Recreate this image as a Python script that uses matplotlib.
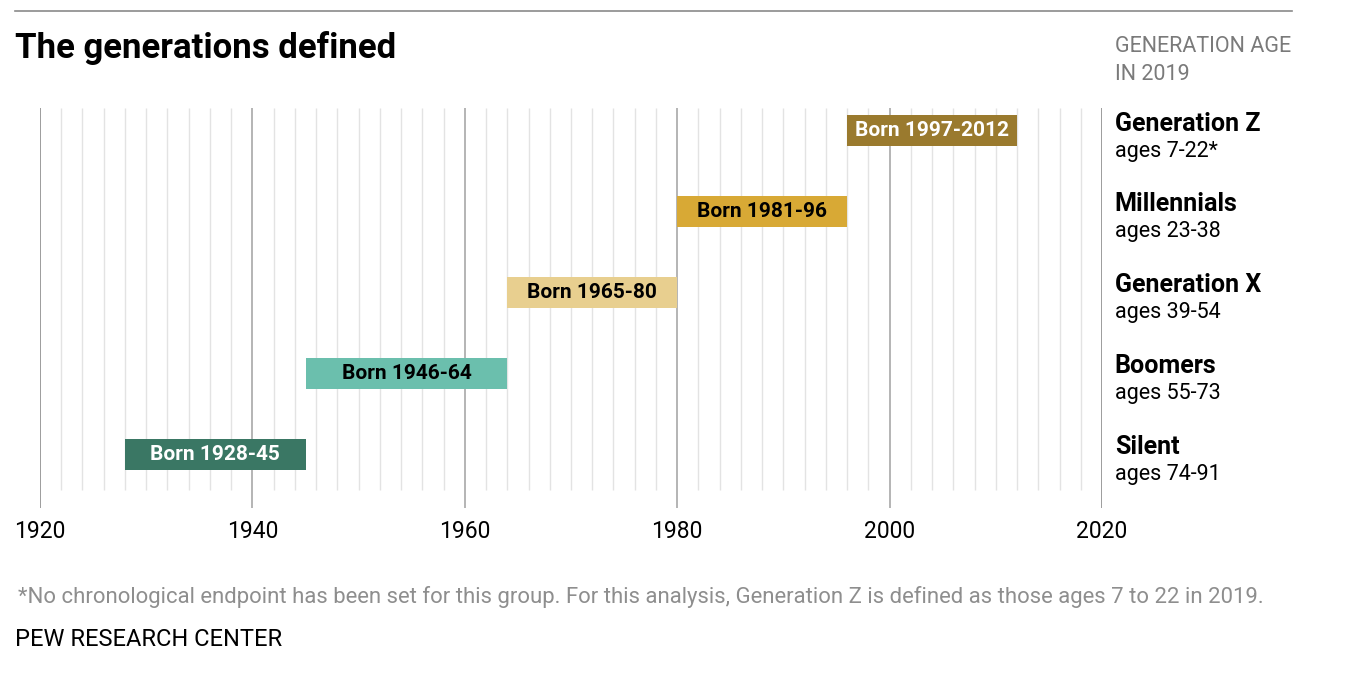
import matplotlib.pyplot as plt

# generations, bottom row first
generations = ["Silent", "Boomers", "Generation X", "Millennials", "Generation Z"]
ages = ["ages 74-91", "ages 55-73", "ages 39-54", "ages 23-38", "ages 7-22*"]
bar_labels = ["Born 1928-45", "Born 1946-64", "Born 1965-80", "Born 1981-96", "Born 1997-2012"]
bar_start = [1928, 1945, 1964, 1980, 1996]
bar_end = [1945, 1964, 1980, 1996, 2012]
colors = ["#3a7764", "#6bbfad", "#e8cf8f", "#d8a935", "#9a7a2e"]
text_colors = ["white", "black", "black", "black", "white"]
year_ticks = [1920, 1940, 1960, 1980, 2000, 2020]

W, H = 1348, 680


def main():
    plt.rcParams["font.family"] = ["Roboto", "DejaVu Sans"]
    fig = plt.figure(figsize=(W / 100, H / 100), dpi=100)

    # axes placed in pixel terms: x 1920..2020 -> px 40..1102, y px 108..508
    ax = fig.add_axes([40 / W, 1 - 508 / H, (1102 - 40) / W, 400 / H])
    ax.set_xlim(1920, 2020)
    ax.set_ylim(-0.667, 4.284)

    # minor grid every 2 years, major every 20
    for yr in range(1922, 2020, 2):
        if yr % 20 != 0:
            ax.vlines(yr, -0.44, 4.284, color="#e3e3e3", lw=1, zorder=0)
    for yr in year_ticks:
        c = "#8c8c8c" if yr in (1920, 2020) else "#a8a8a8"
        ax.vlines(yr, -0.667, 4.284, color=c, lw=1.2, zorder=1)

    for i in range(len(generations)):
        ax.barh(i, bar_end[i] - bar_start[i], left=bar_start[i], height=0.383,
                color=colors[i], zorder=2)
        ax.text((bar_start[i] + bar_end[i]) / 2, i, bar_labels[i], ha="center",
                va="center", fontsize=15, fontweight="bold", color=text_colors[i],
                zorder=3)
        ax.text(2021.2, i + 0.09, generations[i], ha="left", va="center",
                fontsize=18, fontweight="bold", color="black")
        ax.text(2021.2, i - 0.25, ages[i], ha="left", va="center",
                fontsize=15.5, color="black")

    ax.set_xticks(year_ticks)
    ax.set_xticklabels([str(y) for y in year_ticks], fontsize=16.5)
    ax.tick_params(axis="x", length=0, pad=9)
    ax.set_yticks([])
    for s in ax.spines.values():
        s.set_visible(False)

    # header / footer
    fig.add_artist(plt.Line2D([15 / W, 1292 / W], [1 - 11 / H, 1 - 11 / H],
                              color="#8a8a8a", lw=1.2))
    fig.text(15 / W, 1 - 48 / H, "The generations defined", fontsize=25,
             fontweight="bold", va="center", ha="left")
    fig.text(1115 / W, 1 - 46 / H, "GENERATION AGE", fontsize=15.5,
             color="#7a7a7a", va="center", ha="left")
    fig.text(1115 / W, 1 - 74 / H, "IN 2019", fontsize=15.5,
             color="#7a7a7a", va="center", ha="left")
    fig.text(18 / W, 1 - 597 / H,
             "*No chronological endpoint has been set for this group. For this analysis, "
             "Generation Z is defined as those ages 7 to 22 in 2019.",
             fontsize=15.9, color="#8e8e8e", va="center", ha="left")
    fig.text(15 / W, 1 - 640 / H, "PEW RESEARCH CENTER", fontsize=17,
             color="black", va="center", ha="left")

    fig.savefig("out.png", dpi=100)


if __name__ == "__main__":
    main()
